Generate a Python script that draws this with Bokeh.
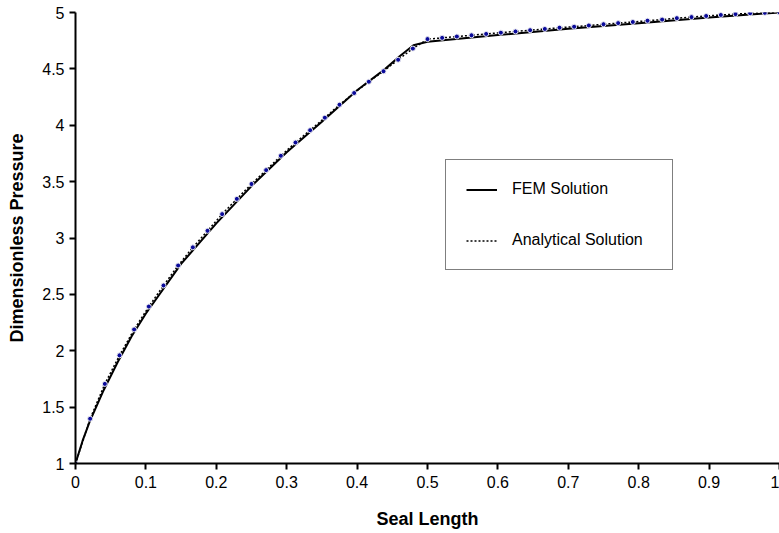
from bokeh.plotting import figure
from bokeh.models import Range1d, FixedTicker, Legend, LegendItem
from bokeh.embed import file_html
from bokeh.resources import INLINE

x_ticks = [0, 0.1, 0.2, 0.3, 0.4, 0.5, 0.6, 0.7, 0.8, 0.9, 1.0]
x_tick_labels = ["0", "0.1", "0.2", "0.3", "0.4", "0.5", "0.6", "0.7", "0.8", "0.9", "1"]
y_ticks = [1, 1.5, 2, 2.5, 3, 3.5, 4, 4.5, 5]
y_tick_labels = ["1", "1.5", "2", "2.5", "3", "3.5", "4", "4.5", "5"]

analytical_x = [0, 0.0208, 0.0417, 0.0625, 0.0833, 0.1042, 0.125, 0.1458, 0.1667, 0.1875,
                0.2083, 0.2292, 0.25, 0.2708, 0.2917, 0.3125, 0.3333, 0.3542, 0.375, 0.3958,
                0.4167, 0.4375, 0.4583, 0.4792, 0.5, 0.5208, 0.5417, 0.5625, 0.5833, 0.6042,
                0.625, 0.6458, 0.6667, 0.6875, 0.7083, 0.7292, 0.75, 0.7708, 0.7917, 0.8125,
                0.8333, 0.8542, 0.875, 0.8958, 0.9167, 0.9375, 0.9583, 0.9792, 1.0]
analytical_y = [1.0, 1.397, 1.706, 1.959, 2.189, 2.392, 2.579, 2.756, 2.917, 3.064,
                3.212, 3.347, 3.479, 3.602, 3.729, 3.847, 3.956, 4.067, 4.182, 4.286,
                4.386, 4.479, 4.581, 4.68, 4.764, 4.775, 4.787, 4.798, 4.81, 4.821,
                4.832, 4.843, 4.854, 4.865, 4.874, 4.885, 4.896, 4.906, 4.916, 4.927,
                4.937, 4.95, 4.959, 4.969, 4.978, 4.986, 4.993, 4.997, 5.0]

fem_x = [0, 0.01, 0.02, 0.04, 0.06, 0.08, 0.1, 0.15, 0.2, 0.25, 0.3, 0.35, 0.4,
         0.44, 0.46, 0.48, 0.5, 0.6, 0.7, 0.8, 0.9, 1.0]
fem_y = [1.0, 1.2, 1.37, 1.65, 1.9, 2.13, 2.33, 2.77, 3.13, 3.46, 3.76, 4.03, 4.31,
         4.50, 4.61, 4.71, 4.74, 4.80, 4.855, 4.905, 4.955, 5.0]

FONT = "Liberation Sans"

p = figure(width=779, height=533, x_range=Range1d(0, 1), y_range=Range1d(1, 5),
           output_backend="svg", toolbar_location=None,
           min_border_left=75, min_border_right=0, min_border_top=12, min_border_bottom=70)

p.grid.visible = False
p.outline_line_color = None
p.background_fill_color = "white"
p.border_fill_color = "white"

p.xaxis.ticker = FixedTicker(ticks=x_ticks)
p.xaxis.major_label_overrides = {t: l for t, l in zip(x_ticks, x_tick_labels)}
p.yaxis.ticker = FixedTicker(ticks=y_ticks)
p.yaxis.major_label_overrides = {t: l for t, l in zip(y_ticks, y_tick_labels)}

for ax in (p.xaxis[0], p.yaxis[0]):
    ax.axis_line_width = 2
    ax.axis_line_color = "black"
    ax.major_tick_line_width = 2
    ax.major_tick_line_color = "black"
    ax.major_tick_out = 6
    ax.major_tick_in = 0
    ax.minor_tick_line_color = None
    ax.major_label_text_font = FONT
    ax.major_label_text_font_size = "16px"
    ax.major_label_text_color = "black"
    ax.axis_label_text_font = FONT
    ax.axis_label_text_font_size = "18px"
    ax.axis_label_text_font_style = "bold"
    ax.axis_label_text_color = "black"

p.xaxis.axis_label = "Seal Length"
p.yaxis.axis_label = "Dimensionless Pressure"
p.xaxis.major_label_standoff = 6
p.xaxis.axis_label_standoff = 18
p.yaxis.major_label_standoff = 5
p.yaxis.axis_label_standoff = 12

fem = p.line(fem_x, fem_y, line_color="black", line_width=2)
ana = p.line(analytical_x, analytical_y, line_color="black", line_width=1.5, line_dash="2 2")
p.scatter(analytical_x, analytical_y, size=5, fill_color="#0a0a9a",
          line_color="#e8e8f0", line_width=1)

legend = Legend(items=[LegendItem(label="FEM Solution", renderers=[fem]),
                       LegendItem(label="Analytical Solution", renderers=[ana])],
                location=(370, 193), orientation="vertical")
legend.border_line_color = "black"
legend.border_line_width = 1
legend.background_fill_color = "white"
legend.background_fill_alpha = 1
legend.label_text_font = FONT
legend.label_text_font_size = "16px"
legend.label_text_color = "black"
legend.glyph_width = 31
legend.glyph_height = 17
legend.label_standoff = 15
legend.label_width = 140
legend.padding = 20
legend.spacing = 33
legend.margin = 0
p.add_layout(legend, "center")

open("out.html", "w").write(file_html(p, INLINE))
